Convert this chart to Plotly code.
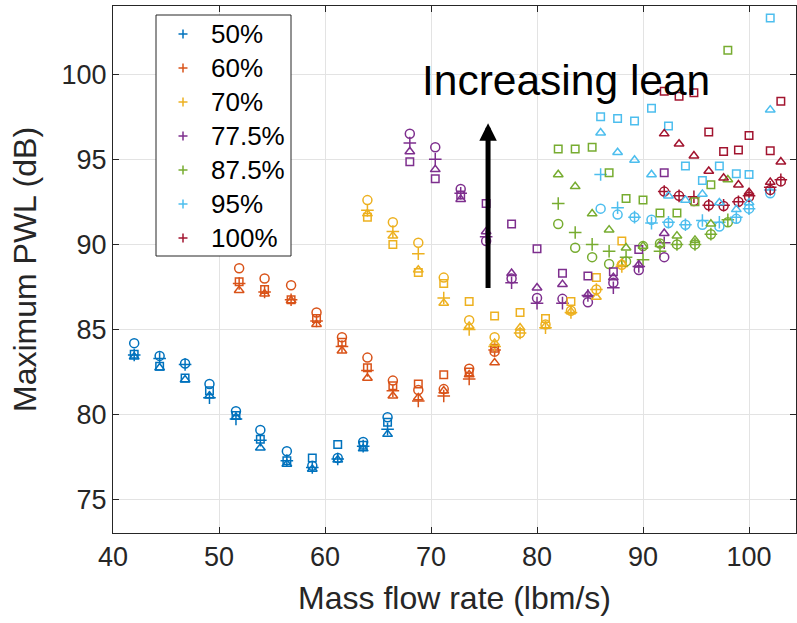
import plotly.graph_objects as go

# Fuel split labels and MATLAB default colour order
labels = ["50%", "60%", "70%", "77.5%", "87.5%", "95%", "100%"]
colors = ["#0072BD", "#D95319", "#EDB120", "#7E2F8E", "#77AC30", "#4DBEEE", "#A2142F"]

# Mass flow rate (lbm/s) per split
x_50 = [42.0, 44.4, 46.8, 49.1, 51.6, 53.9, 56.4, 58.8, 61.2, 63.6, 65.9]
x_60 = [51.9, 54.3, 56.8, 59.2, 61.6, 64.0, 66.4, 68.8, 71.2, 73.6, 76.0]
x_70 = [64.0, 66.4, 68.8, 71.2, 73.6, 76.0, 78.4, 80.8, 83.2, 85.6, 88.0]
x_775 = [68.0, 70.4, 72.8, 75.2, 77.6, 80.0, 82.4, 84.8, 87.2, 89.6, 92.0]
x_875 = [82.0, 83.6, 85.2, 86.8, 88.4, 90.0, 91.6, 93.2, 94.9, 96.4, 98.0]
x_95 = [86.0, 87.6, 89.2, 90.8, 92.4, 94.0, 95.6, 97.2, 98.8, 100.0, 102.0]
x_100 = [92.0, 93.4, 94.8, 96.2, 97.6, 99.0, 100.0, 102.0, 103.0]

# Maximum PWL (dB) for the four measurement sets (circle, plus, square, triangle)
circ_50 = [84.2, 83.45, 83.0, 81.8, 80.2, 79.1, 77.85, 77.0, 77.45, 78.4, 79.85]
plus_50 = [83.5, 83.3, 82.95, 81.0, 79.75, 78.5, 77.3, 76.9, 77.4, 78.15, 79.15]
sq_50 = [83.55, 82.85, 82.15, 81.4, 79.95, 78.55, 77.3, 77.45, 78.25, 78.2, 79.55]
tri_50 = [83.4, 82.75, 82.05, 81.1, 79.85, 78.05, 77.1, 76.8, 77.35, 78.0, 78.85]

circ_60 = [88.6, 88.0, 87.6, 86.0, 84.55, 83.35, 82.0, 81.45, 81.5, 82.7, 83.7]
plus_60 = [87.7, 87.2, 86.75, 85.5, 84.0, 82.6, 81.4, 80.8, 81.1, 82.1, 83.8]
sq_60 = [87.8, 87.35, 86.75, 85.65, 84.25, 82.75, 81.7, 81.8, 82.35, 82.5, 83.9]
tri_60 = [87.3, 87.1, 86.7, 85.3, 83.75, 82.15, 81.1, 81.0, 81.4, 82.35, 83.05]

circ_70 = [92.6, 91.3, 90.1, 88.05, 85.55, 84.55, 84.8, 85.3, 86.1, 87.35, 88.8]
plus_70 = [92.0, 90.75, 89.45, 86.85, 85.0, 84.0, 84.8, 85.1, 86.0, 87.35, 88.7]
sq_70 = [91.6, 90.0, 88.35, 87.7, 86.65, 85.8, 86.0, 85.65, 86.65, 88.05, 90.2]
tri_70 = [91.8, 90.5, 88.5, 86.55, 85.2, 84.2, 85.1, 85.2, 86.05, 86.9, 88.9]

circ_775 = [96.5, 95.7, 93.25, 90.2, 88.0, 86.85, 86.8, 86.6, 87.75, 88.5, 89.25]
plus_775 = [95.95, 95.0, 93.0, 90.45, 87.75, 86.55, 86.55, 87.0, 87.45, 88.7, 90.1]
sq_775 = [94.85, 93.85, 92.9, 92.4, 91.2, 89.75, 88.3, 88.15, 88.4, 89.7, 94.2]
tri_775 = [95.45, 94.4, 92.65, 90.75, 88.3, 87.45, 87.65, 87.05, 88.05, 88.8, 90.65]

circ_875 = [91.2, 89.8, 89.25, 88.85, 89.0, 89.9, 90.05, 90.0, 90.0, 90.6, 91.3]
plus_875 = [92.4, 90.7, 90.0, 89.6, 89.25, 89.1, 89.6, 90.0, 90.0, 90.6, 91.45]
sq_875 = [95.6, 95.6, 95.7, 94.2, 92.7, 92.6, 91.85, 91.85, 92.5, 93.5, 101.4]
tri_875 = [94.1, 93.4, 91.8, 90.85, 89.8, 89.9, 90.0, 90.5, 90.25, 91.2, 93.8]

circ_95 = [92.1, 91.75, 91.6, 91.45, 91.25, 91.15, 91.15, 91.05, 91.5, 92.1, 93.0]
plus_95 = [94.1, 92.15, 91.6, 91.25, 91.3, 91.15, 91.4, 91.3, 91.6, 92.1, 93.2]
sq_95 = [97.5, 97.4, 97.25, 98.0, 96.95, 94.6, 93.75, 94.6, 94.15, 94.1, 103.3]
tri_95 = [96.55, 95.4, 94.95, 94.1, 92.85, 92.6, 92.95, 92.45, 92.05, 92.45, 97.9]

circ_100 = [93.1, 92.85, 92.55, 92.3, 92.25, 92.5, 92.8, 93.2, 93.7]
plus_100 = [93.1, 92.85, 92.8, 92.3, 92.3, 92.5, 92.85, 93.35, 93.8]
sq_100 = [99.0, 98.7, 98.9, 96.6, 95.45, 95.55, 96.4, 95.5, 98.4]
tri_100 = [96.5, 95.9, 95.2, 94.3, 93.9, 93.5, 93.05, 93.65, 94.85]

xs = [x_50, x_60, x_70, x_775, x_875, x_95, x_100]
circ = [circ_50, circ_60, circ_70, circ_775, circ_875, circ_95, circ_100]
plus = [plus_50, plus_60, plus_70, plus_775, plus_875, plus_95, plus_100]
sq = [sq_50, sq_60, sq_70, sq_775, sq_875, sq_95, sq_100]
tri = [tri_50, tri_60, tri_70, tri_775, tri_875, tri_95, tri_100]

FONT = "Liberation Sans, Arial, Helvetica, sans-serif"
INK = "#262626"

# Figure geometry (pixels)
W, H = 797, 623
ML, MR, MT, MB = 113, 1, 6, 90
PW, PH = W - ML - MR, H - MT - MB


def px_x(px):
    return (px - ML) / PW


def px_y(py):
    return 1 - (py - MT) / PH


fig = go.Figure()

# Plus markers first, then circles, squares and triangles
sets = [(plus, "cross-thin-open", 9), (circ, "circle-open", 9),
        (sq, "square-open", 7.5), (tri, "triangle-up-open", 8.5)]
for data, sym, size in sets:
    for i, lab in enumerate(labels):
        fig.add_trace(go.Scatter(
            x=xs[i], y=data[i], mode="markers", name=lab, showlegend=False,
            marker=dict(symbol=sym, size=size, color=colors[i],
                        line=dict(color=colors[i], width=1.5)),
        ))

# Legend box: plus glyph and label per split
shapes = [dict(type="rect", xref="paper", yref="paper",
               x0=px_x(156), x1=px_x(291), y0=px_y(256), y1=px_y(15),
               fillcolor="white", line=dict(color=INK, width=1), layer="above")]
annotations = []
row0, row_gap, glyph_x, half = 34, 34, 183, 4.5
for i, lab in enumerate(labels):
    ry = row0 + i * row_gap
    shapes.append(dict(type="line", xref="paper", yref="paper",
                       x0=px_x(glyph_x - half), x1=px_x(glyph_x + half),
                       y0=px_y(ry), y1=px_y(ry), layer="above",
                       line=dict(color=colors[i], width=1.5)))
    shapes.append(dict(type="line", xref="paper", yref="paper",
                       x0=px_x(glyph_x), x1=px_x(glyph_x),
                       y0=px_y(ry - half), y1=px_y(ry + half), layer="above",
                       line=dict(color=colors[i], width=1.5)))
    annotations.append(dict(xref="paper", yref="paper", x=px_x(209), y=px_y(ry),
                            text=lab, showarrow=False, xanchor="left", yanchor="middle",
                            font=dict(family=FONT, size=26, color="black")))

# Trend arrow and label
annotations.append(dict(x=75.38, y=97.11, ax=75.38, ay=87.35, xref="x", yref="y",
                        axref="x", ayref="y", text="", showarrow=True,
                        arrowhead=2, arrowsize=0.7, arrowwidth=5, arrowcolor="black"))
annotations.append(dict(x=82.71, y=99.65, xref="x", yref="y", text="Increasing lean",
                        showarrow=False, font=dict(family=FONT, size=42.5, color="black"),
                        xanchor="center", yanchor="middle"))

axis_common = dict(
    showgrid=True, gridcolor="#e3e3e3", gridwidth=1,
    showline=True, linecolor=INK, linewidth=1, mirror="ticks",
    ticks="inside", ticklen=6, tickcolor=INK, zeroline=False,
    tickfont=dict(family=FONT, size=27, color=INK),
)

fig.update_xaxes(range=[40, 104.43], tickvals=[40, 50, 60, 70, 80, 90, 100],
                 title=dict(text="Mass flow rate (lbm/s)", font=dict(family=FONT, size=32, color=INK)),
                 **axis_common)
fig.update_yaxes(range=[73.05, 104.0], tickvals=[75, 80, 85, 90, 95, 100],
                 title=dict(text="Maximum PWL (dB)", font=dict(family=FONT, size=32, color=INK)),
                 **axis_common)

fig.update_layout(
    width=W, height=H,
    margin=dict(l=ML, r=MR, t=MT, b=MB),
    paper_bgcolor="white", plot_bgcolor="white",
    showlegend=False,
    shapes=shapes, annotations=annotations,
)

fig.write_html("out.html")
